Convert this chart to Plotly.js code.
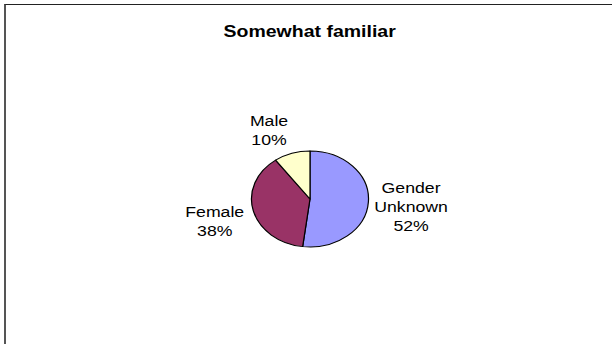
<!DOCTYPE html>
<html>
<head>
<meta charset="utf-8">
<script src="https://cdn.plot.ly/plotly-3.0.1.min.js"></script>
<style>
  html, body { margin: 0; padding: 0; background: #ffffff; overflow: hidden; width: 612px; height: 344px; }
  #frame { position: absolute; left: 4px; top: 4px; width: 720px; height: 420px;
           border-left: 2px solid #555555; border-top: 1px solid #222222; }
  #chart { position: absolute; left: 0; top: 0; width: 502px; height: 344px;
           transform: scaleX(1.219); transform-origin: 0 0; }
</style>
</head>
<body>
<div id="frame"></div>
<div id="chart"></div>
<script>
// ---- data ----
const titleText = "Somewhat familiar";
const categories = ["Gender Unknown", "Female", "Male"];
const values = [52, 38, 10];
const sliceColors = ["#9999FF", "#993366", "#FFFFCC"];

// ---- layout helpers (positions, in paper fractions of the unstretched plot) ----
const W = 502, H = 344;
const labelPos = [
  { x: 337 / W, y: 1 - 207 / H },   // Gender Unknown
  { x: 176 / W, y: 1 - 221 / H },   // Female
  { x: 220 / W, y: 1 - 130 / H }    // Male
];

const total = values.reduce((a, b) => a + b, 0);
const annotations = categories.map((c, i) => ({
  text: c.replace(" ", "<br>") + "<br>" + Math.round(values[i] / total * 100) + "%",
  x: labelPos[i].x, y: labelPos[i].y, xref: "paper", yref: "paper",
  xanchor: "center", yanchor: "middle", showarrow: false, align: "center",
  font: { family: "Liberation Sans, Arial, sans-serif", size: 14.5, color: "#000000" }
}));

const cx = 254.3, cy = 199, r = 48;
const trace = {
  type: "pie",
  labels: categories,
  values: values,
  sort: false,
  direction: "clockwise",
  rotation: 0,
  textinfo: "none",
  hoverinfo: "label+percent",
  marker: { colors: sliceColors, line: { color: "#000000", width: 1 } },
  domain: { x: [(cx - r) / W, (cx + r) / W], y: [(H - cy - r) / H, (H - cy + r) / H] },
  showlegend: false
};

const layout = {
  width: W, height: H,
  margin: { l: 0, r: 0, t: 0, b: 0 },
  paper_bgcolor: "rgba(0,0,0,0)",
  plot_bgcolor: "rgba(0,0,0,0)",
  showlegend: false,
  title: {
    text: titleText,
    x: 254 / W, xref: "paper", xanchor: "center",
    y: 1 - 31 / H, yref: "paper", yanchor: "middle",
    font: { family: "Liberation Sans, Arial, sans-serif", size: 16, weight: "bold", color: "#000000" }
  },
  annotations: annotations
};

Plotly.newPlot("chart", [trace], layout, { displayModeBar: false, staticPlot: true });
</script>
</body>
</html>
